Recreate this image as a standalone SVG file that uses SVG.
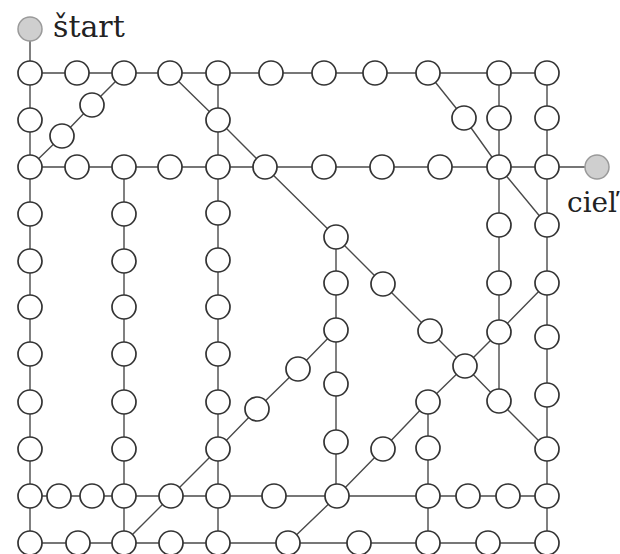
<svg xmlns="http://www.w3.org/2000/svg" width="620" height="554" viewBox="0 0 620 554">
<style>
.e{fill:none;stroke:#4a4a4a;stroke-width:1.4;stroke-linecap:round;stroke-linejoin:round}
.n circle{fill:#fff;stroke:#333;stroke-width:1.7}
.g circle{fill:#cfcfcf;stroke:#9a9a9a;stroke-width:1.5}
.t{font-family:"DejaVu Serif","Liberation Serif",serif;fill:#222}
</style>
<rect width="620" height="554" fill="#fff"/>
<g id="connectors" class="e">
<path d="M30 29V543"/>
<path d="M30 73H547"/>
<path d="M30 167H597"/>
<path d="M30 496H547"/>
<path d="M30 543H547"/>
<path d="M124 167V543"/>
<path d="M218 73V543"/>
<path d="M336 237V496"/>
<path d="M428 402V543"/>
<path d="M499 73V401"/>
<path d="M547 73V543"/>
<path d="M30 167L62 136L92 105L124 73"/>
<path d="M170 73L218 120L265 167L336 237L383 284L430 331L465 366L499 401L547 449"/>
<path d="M428 73L464 118L499 167L547 225"/>
<path d="M547 283L499 332L465 366L428 402L383 449L337 496L288 543"/>
<path d="M124 543L171 496L218 449L257 409L298 369L336 330"/>
</g>
<g id="start" class="g"><circle cx="30" cy="29" r="12"/></g>
<g id="goal" class="g"><circle cx="597" cy="167" r="12"/></g>
<text class="t" x="53" y="37" font-size="30">štart</text>
<text class="t" x="567" y="212" font-size="28" textLength="50" lengthAdjust="spacingAndGlyphs">cieľ</text>
<g class="n">
<g id="c30_73"><circle cx="30" cy="73" r="12"/></g>
<g id="c30_120"><circle cx="30" cy="120" r="12"/></g>
<g id="c30_167"><circle cx="30" cy="167" r="12"/></g>
<g id="c30_214"><circle cx="30" cy="214" r="12"/></g>
<g id="c30_261"><circle cx="30" cy="261" r="12"/></g>
<g id="c30_307"><circle cx="30" cy="307" r="12"/></g>
<g id="c30_354"><circle cx="30" cy="354" r="12"/></g>
<g id="c30_402"><circle cx="30" cy="402" r="12"/></g>
<g id="c30_449"><circle cx="30" cy="449" r="12"/></g>
<g id="c30_496"><circle cx="30" cy="496" r="12"/></g>
<g id="c30_543"><circle cx="30" cy="543" r="12"/></g>
<g id="t77"><circle cx="77" cy="73" r="12"/></g>
<g id="t124"><circle cx="124" cy="73" r="12"/></g>
<g id="t170"><circle cx="170" cy="73" r="12"/></g>
<g id="t218"><circle cx="218" cy="73" r="12"/></g>
<g id="t271"><circle cx="271" cy="73" r="12"/></g>
<g id="t324"><circle cx="324" cy="73" r="12"/></g>
<g id="t375"><circle cx="375" cy="73" r="12"/></g>
<g id="t428"><circle cx="428" cy="73" r="12"/></g>
<g id="t499"><circle cx="499" cy="73" r="12"/></g>
<g id="t547"><circle cx="547" cy="73" r="12"/></g>
<g id="d62"><circle cx="62" cy="136" r="12"/></g>
<g id="d92"><circle cx="92" cy="105" r="12"/></g>
<g id="m218_120"><circle cx="218" cy="120" r="12"/></g>
<g id="r464_118"><circle cx="464" cy="118" r="12"/></g>
<g id="r499_118"><circle cx="499" cy="118" r="12"/></g>
<g id="r547_118"><circle cx="547" cy="118" r="12"/></g>
<g id="h77"><circle cx="77" cy="167" r="12"/></g>
<g id="h124"><circle cx="124" cy="167" r="12"/></g>
<g id="h170"><circle cx="170" cy="167" r="12"/></g>
<g id="h218"><circle cx="218" cy="167" r="12"/></g>
<g id="h265"><circle cx="265" cy="167" r="12"/></g>
<g id="h324"><circle cx="324" cy="167" r="12"/></g>
<g id="h382"><circle cx="382" cy="167" r="12"/></g>
<g id="h440"><circle cx="440" cy="167" r="12"/></g>
<g id="h499"><circle cx="499" cy="167" r="12"/></g>
<g id="h547"><circle cx="547" cy="167" r="12"/></g>
<g id="c124_214"><circle cx="124" cy="214" r="12"/></g>
<g id="c124_261"><circle cx="124" cy="261" r="12"/></g>
<g id="c124_307"><circle cx="124" cy="307" r="12"/></g>
<g id="c124_354"><circle cx="124" cy="354" r="12"/></g>
<g id="c124_402"><circle cx="124" cy="402" r="12"/></g>
<g id="c124_449"><circle cx="124" cy="449" r="12"/></g>
<g id="c218_213"><circle cx="218" cy="213" r="12"/></g>
<g id="c218_260"><circle cx="218" cy="260" r="12"/></g>
<g id="c218_307"><circle cx="218" cy="307" r="12"/></g>
<g id="c218_354"><circle cx="218" cy="354" r="12"/></g>
<g id="c218_402"><circle cx="218" cy="402" r="12"/></g>
<g id="c218_449"><circle cx="218" cy="449" r="12"/></g>
<g id="c336_237"><circle cx="336" cy="237" r="12"/></g>
<g id="c336_283"><circle cx="336" cy="283" r="12"/></g>
<g id="c336_330"><circle cx="336" cy="330" r="12"/></g>
<g id="c336_384"><circle cx="336" cy="384" r="12"/></g>
<g id="c336_442"><circle cx="336" cy="442" r="12"/></g>
<g id="g383_284"><circle cx="383" cy="284" r="12"/></g>
<g id="g430_331"><circle cx="430" cy="331" r="12"/></g>
<g id="g465_366"><circle cx="465" cy="366" r="12"/></g>
<g id="c499_225"><circle cx="499" cy="225" r="12"/></g>
<g id="c499_283"><circle cx="499" cy="283" r="12"/></g>
<g id="c499_332"><circle cx="499" cy="332" r="12"/></g>
<g id="c499_401"><circle cx="499" cy="401" r="12"/></g>
<g id="c547_225"><circle cx="547" cy="225" r="12"/></g>
<g id="c547_283"><circle cx="547" cy="283" r="12"/></g>
<g id="c547_337"><circle cx="547" cy="337" r="12"/></g>
<g id="c547_395"><circle cx="547" cy="395" r="12"/></g>
<g id="c547_449"><circle cx="547" cy="449" r="12"/></g>
<g id="c428_402"><circle cx="428" cy="402" r="12"/></g>
<g id="c428_448"><circle cx="428" cy="448" r="12"/></g>
<g id="a383_449"><circle cx="383" cy="449" r="12"/></g>
<g id="a257_409"><circle cx="257" cy="409" r="12"/></g>
<g id="a298_369"><circle cx="298" cy="369" r="12"/></g>
<g id="b59"><circle cx="59" cy="496" r="12"/></g>
<g id="b92"><circle cx="92" cy="496" r="12"/></g>
<g id="b124"><circle cx="124" cy="496" r="12"/></g>
<g id="b171"><circle cx="171" cy="496" r="12"/></g>
<g id="b218"><circle cx="218" cy="496" r="12"/></g>
<g id="b274"><circle cx="274" cy="496" r="12"/></g>
<g id="b337"><circle cx="337" cy="496" r="12"/></g>
<g id="b428"><circle cx="428" cy="496" r="12"/></g>
<g id="b468"><circle cx="468" cy="496" r="12"/></g>
<g id="b508"><circle cx="508" cy="496" r="12"/></g>
<g id="b547"><circle cx="547" cy="496" r="12"/></g>
<g id="z78"><circle cx="78" cy="543" r="12"/></g>
<g id="z124"><circle cx="124" cy="543" r="12"/></g>
<g id="z171"><circle cx="171" cy="543" r="12"/></g>
<g id="z218"><circle cx="218" cy="543" r="12"/></g>
<g id="z288"><circle cx="288" cy="543" r="12"/></g>
<g id="z359"><circle cx="359" cy="543" r="12"/></g>
<g id="z428"><circle cx="428" cy="543" r="12"/></g>
<g id="z488"><circle cx="488" cy="543" r="12"/></g>
<g id="z547"><circle cx="547" cy="543" r="12"/></g>
</g>
</svg>
